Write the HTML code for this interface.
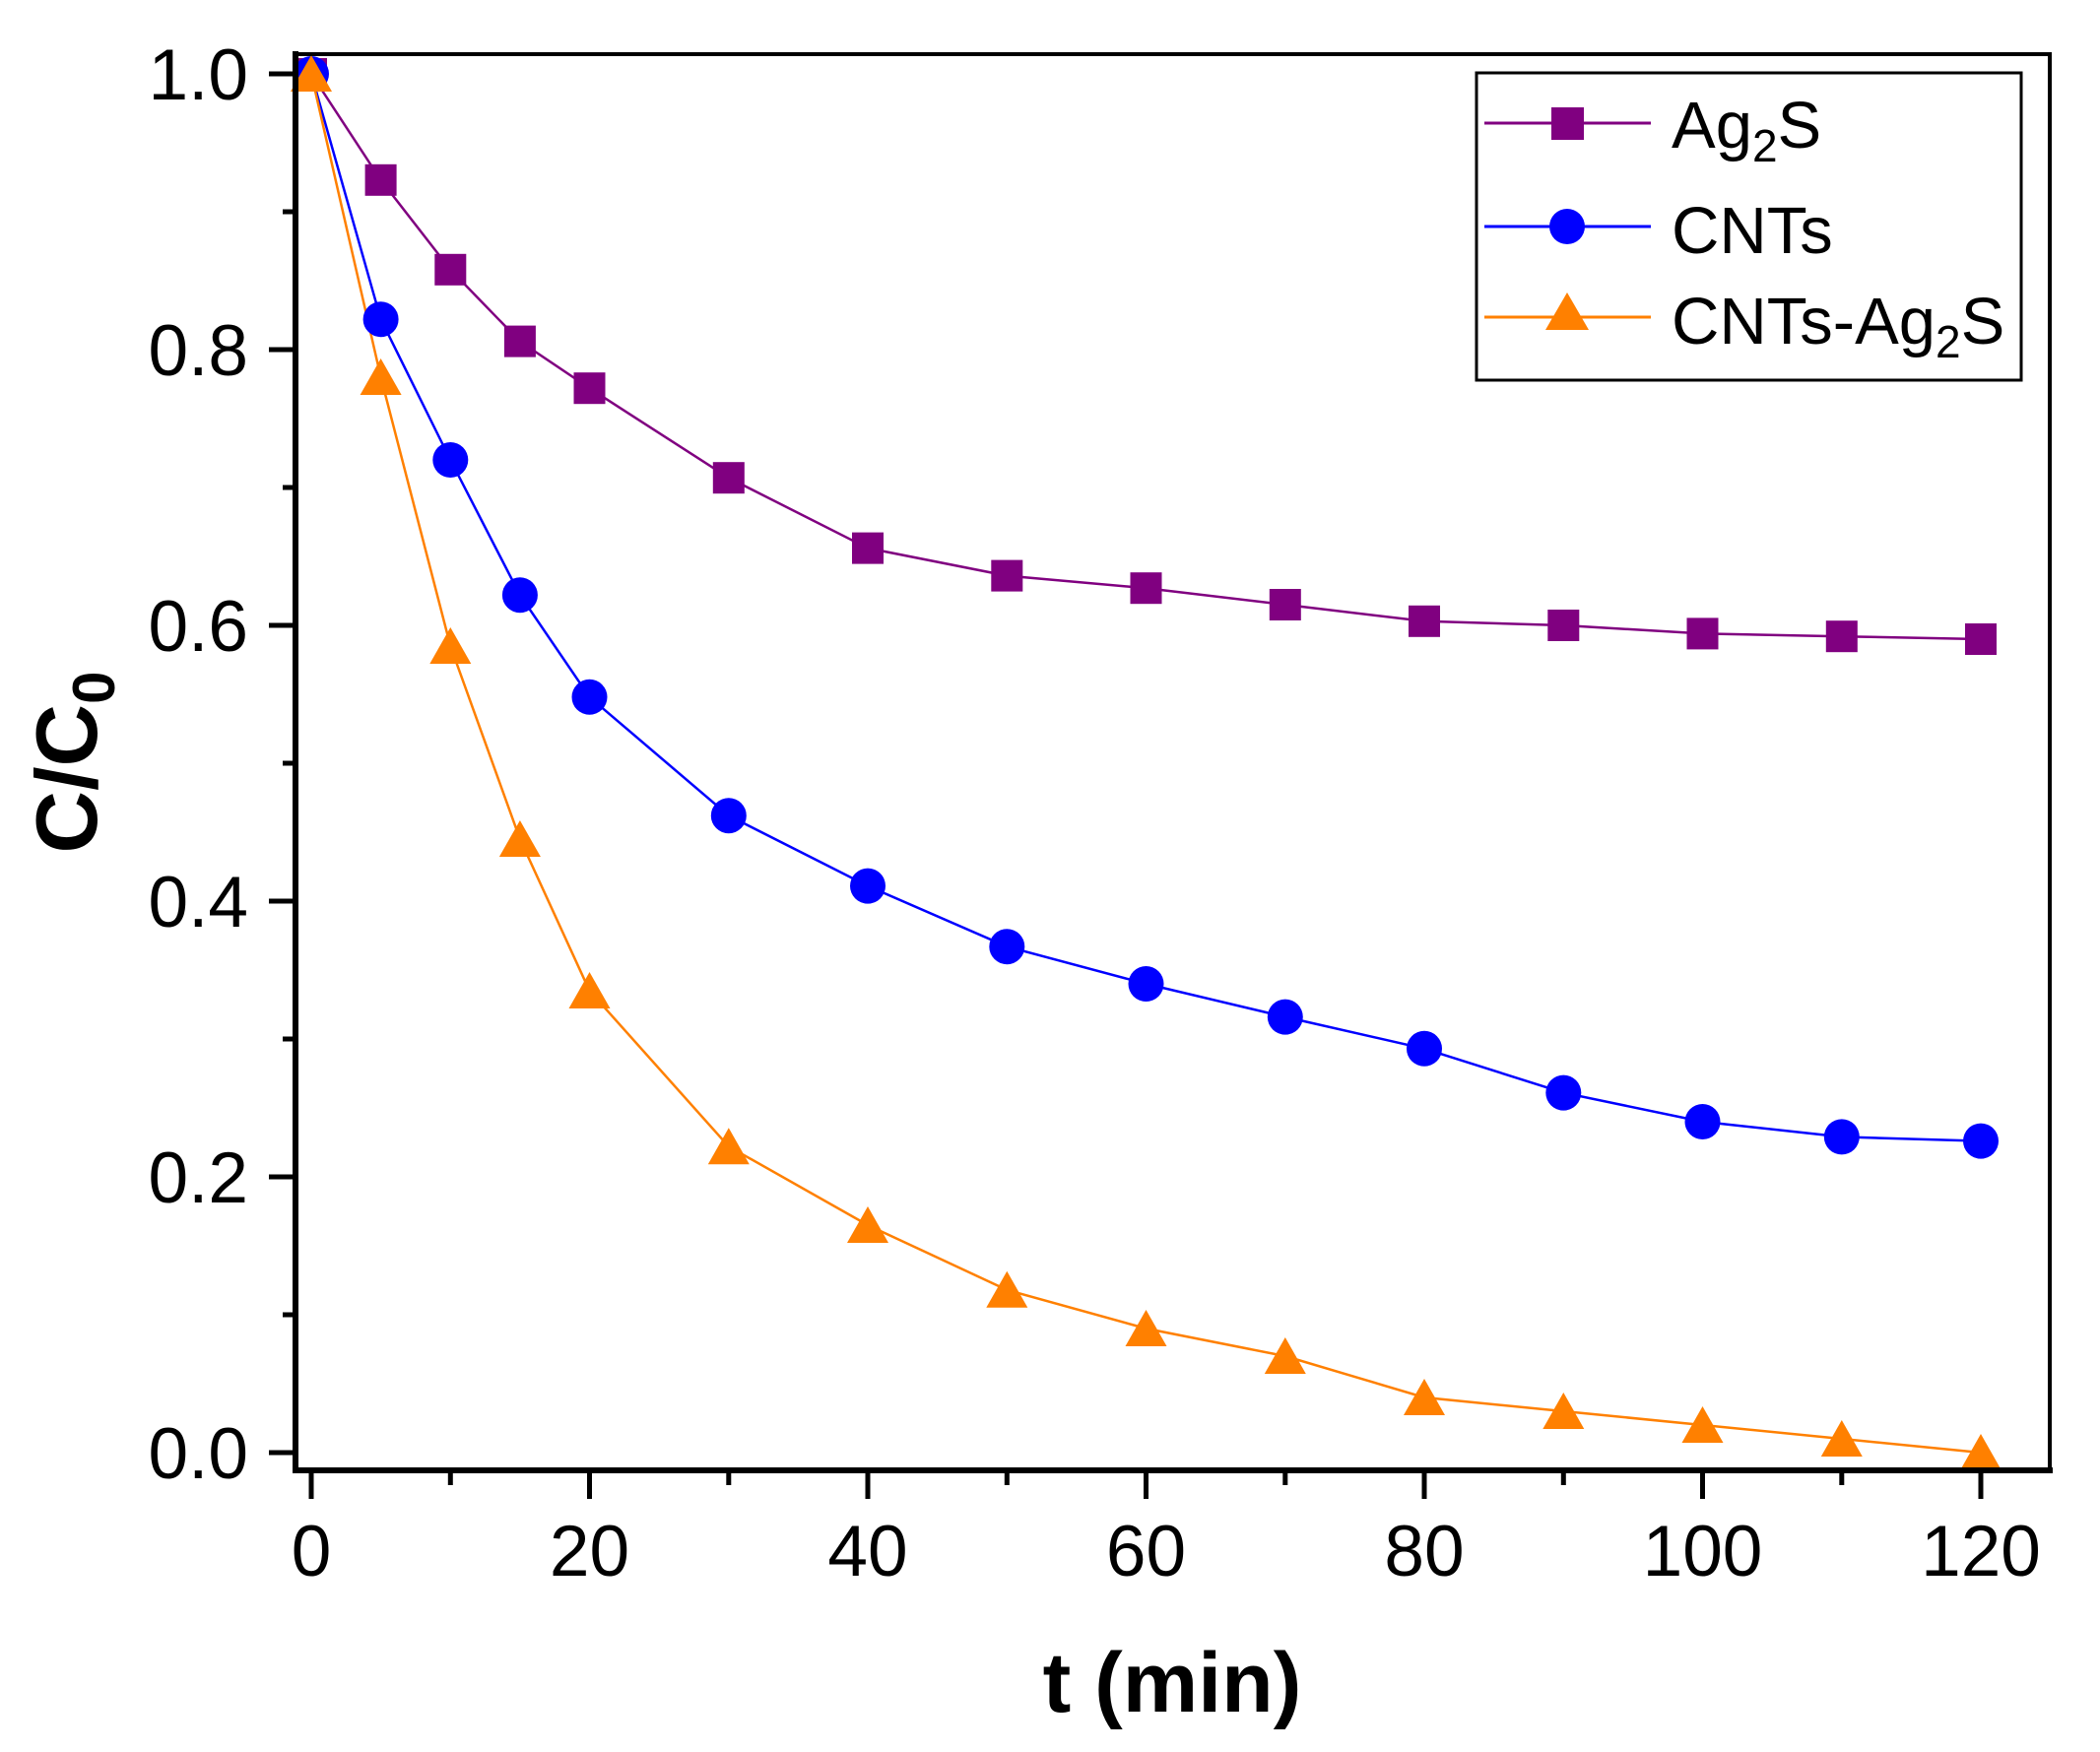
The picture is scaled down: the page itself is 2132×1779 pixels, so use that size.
<!DOCTYPE html>
<html><head><meta charset="utf-8"><style>html,body{margin:0;padding:0;background:#fff}svg{display:block}</style></head>
<body>
<svg width="2132" height="1779" viewBox="0 0 2132 1779" xmlns="http://www.w3.org/2000/svg" xmlns:xlink="http://www.w3.org/1999/xlink" font-family="Liberation Sans, Arial, sans-serif">
<defs>
<rect id="sq" x="-16" y="-16" width="32" height="32" fill="#800080"/>
<circle id="ci" cx="0" cy="0" r="18" fill="#0000ff"/>
<polygon id="tr" points="-21,18 21,18 0,-19" fill="#ff8000"/>
</defs>
<rect width="2132" height="1779" fill="#fff"/>
<polyline fill="none" stroke="#800080" stroke-width="2.5" points="316,75 386.6,182.8 457.3,273.8 527.9,346.6 598.5,394.2 739.8,485.2 881,556.6 1022.3,584.6 1163.5,597.2 1304.8,614 1446,630.8 1587.3,635 1728.5,643.4 1869.8,646.2 2011,649"/>
<polyline fill="none" stroke="#0000ff" stroke-width="2.5" points="316,75 386.6,324.2 457.3,467 527.9,604.2 598.5,707.8 739.8,828.2 881,899.6 1022.3,961.2 1163.5,999 1304.8,1032.6 1446,1064.8 1587.3,1109.6 1728.5,1139 1869.8,1154.4 2011,1158.6"/>
<polyline fill="none" stroke="#ff8000" stroke-width="2.5" points="316,75 386.6,383 457.3,656 527.9,852 598.5,1006 739.8,1164.2 881,1244 1022.3,1309.8 1163.5,1349 1304.8,1377 1446,1419 1587.3,1433 1728.5,1447 1869.8,1461 2011,1475"/>
<g>
<use xlink:href="#sq" x="316" y="75"/><use xlink:href="#sq" x="386.6" y="182.8"/><use xlink:href="#sq" x="457.3" y="273.8"/><use xlink:href="#sq" x="527.9" y="346.6"/><use xlink:href="#sq" x="598.5" y="394.2"/><use xlink:href="#sq" x="739.8" y="485.2"/><use xlink:href="#sq" x="881" y="556.6"/><use xlink:href="#sq" x="1022.3" y="584.6"/><use xlink:href="#sq" x="1163.5" y="597.2"/><use xlink:href="#sq" x="1304.8" y="614"/><use xlink:href="#sq" x="1446" y="630.8"/><use xlink:href="#sq" x="1587.3" y="635"/><use xlink:href="#sq" x="1728.5" y="643.4"/><use xlink:href="#sq" x="1869.8" y="646.2"/><use xlink:href="#sq" x="2011" y="649"/>
</g>
<g>
<use xlink:href="#ci" x="316" y="75"/><use xlink:href="#ci" x="386.6" y="324.2"/><use xlink:href="#ci" x="457.3" y="467"/><use xlink:href="#ci" x="527.9" y="604.2"/><use xlink:href="#ci" x="598.5" y="707.8"/><use xlink:href="#ci" x="739.8" y="828.2"/><use xlink:href="#ci" x="881" y="899.6"/><use xlink:href="#ci" x="1022.3" y="961.2"/><use xlink:href="#ci" x="1163.5" y="999"/><use xlink:href="#ci" x="1304.8" y="1032.6"/><use xlink:href="#ci" x="1446" y="1064.8"/><use xlink:href="#ci" x="1587.3" y="1109.6"/><use xlink:href="#ci" x="1728.5" y="1139"/><use xlink:href="#ci" x="1869.8" y="1154.4"/><use xlink:href="#ci" x="2011" y="1158.6"/>
</g>
<g>
<use xlink:href="#tr" x="316" y="75"/><use xlink:href="#tr" x="386.6" y="383"/><use xlink:href="#tr" x="457.3" y="656"/><use xlink:href="#tr" x="527.9" y="852"/><use xlink:href="#tr" x="598.5" y="1006"/><use xlink:href="#tr" x="739.8" y="1164.2"/><use xlink:href="#tr" x="881" y="1244"/><use xlink:href="#tr" x="1022.3" y="1309.8"/><use xlink:href="#tr" x="1163.5" y="1349"/><use xlink:href="#tr" x="1304.8" y="1377"/><use xlink:href="#tr" x="1446" y="1419"/><use xlink:href="#tr" x="1587.3" y="1433"/><use xlink:href="#tr" x="1728.5" y="1447"/><use xlink:href="#tr" x="1869.8" y="1461"/><use xlink:href="#tr" x="2011" y="1475"/>
</g>
<rect x="300" y="55" width="1781" height="1438" fill="none" stroke="#000" stroke-width="4"/>
<line x1="300" y1="52" x2="300" y2="1496" stroke="#000" stroke-width="6"/>
<line x1="297" y1="1493" x2="2084" y2="1493" stroke="#000" stroke-width="6"/>
<g stroke="#000" stroke-width="5">
<line x1="316" y1="1493" x2="316" y2="1522"/><line x1="457.3" y1="1493" x2="457.3" y2="1508"/>
<line x1="598.5" y1="1493" x2="598.5" y2="1522"/><line x1="739.8" y1="1493" x2="739.8" y2="1508"/>
<line x1="881" y1="1493" x2="881" y2="1522"/><line x1="1022.3" y1="1493" x2="1022.3" y2="1508"/>
<line x1="1163.5" y1="1493" x2="1163.5" y2="1522"/><line x1="1304.8" y1="1493" x2="1304.8" y2="1508"/>
<line x1="1446" y1="1493" x2="1446" y2="1522"/><line x1="1587.3" y1="1493" x2="1587.3" y2="1508"/>
<line x1="1728.5" y1="1493" x2="1728.5" y2="1522"/><line x1="1869.8" y1="1493" x2="1869.8" y2="1508"/>
<line x1="2011" y1="1493" x2="2011" y2="1522"/>
<line x1="300" y1="1475" x2="273" y2="1475"/><line x1="300" y1="1335" x2="287" y2="1335"/>
<line x1="300" y1="1195" x2="273" y2="1195"/><line x1="300" y1="1055" x2="287" y2="1055"/>
<line x1="300" y1="915" x2="273" y2="915"/><line x1="300" y1="775" x2="287" y2="775"/>
<line x1="300" y1="635" x2="273" y2="635"/><line x1="300" y1="495" x2="287" y2="495"/>
<line x1="300" y1="355" x2="273" y2="355"/><line x1="300" y1="215" x2="287" y2="215"/>
<line x1="300" y1="75" x2="273" y2="75"/>
</g>
<g font-size="73" text-anchor="middle" fill="#000">
<text x="316" y="1600">0</text><text x="598.5" y="1600">20</text><text x="881" y="1600">40</text><text x="1163.5" y="1600">60</text><text x="1446" y="1600">80</text><text x="1728.5" y="1600">100</text><text x="2011" y="1600">120</text>
</g>
<g font-size="73" text-anchor="end" fill="#000">
<text x="252" y="1501">0.0</text><text x="252" y="1221">0.2</text><text x="252" y="941">0.4</text><text x="252" y="661">0.6</text><text x="252" y="381">0.8</text><text x="252" y="101">1.0</text>
</g>
<text x="1190" y="1738" font-size="86" font-weight="bold" text-anchor="middle">t (min)</text>
<text transform="translate(98,774) rotate(-90)" font-size="88" font-weight="bold" text-anchor="middle">C/C<tspan font-size="60" dy="18">0</tspan></text>
<rect x="1499" y="74" width="553" height="312" fill="#fff" stroke="#000" stroke-width="3"/>
<line x1="1507" y1="125" x2="1676" y2="125" stroke="#800080" stroke-width="3"/>
<rect x="1575" y="109" width="33" height="33" fill="#800080"/>
<line x1="1507" y1="230" x2="1676" y2="230" stroke="#0000ff" stroke-width="3"/>
<circle cx="1591" cy="230" r="18" fill="#0000ff"/>
<line x1="1507" y1="322" x2="1676" y2="322" stroke="#ff8000" stroke-width="3"/>
<polygon points="1569,335 1613,335 1591,297" fill="#ff8000"/>
<text x="1697" y="150" font-size="67">Ag<tspan font-size="46" dy="14">2</tspan><tspan dy="-14">S</tspan></text>
<text x="1697" y="257" font-size="67">CNTs</text>
<text x="1697" y="349" font-size="67">CNTs-Ag<tspan font-size="46" dy="14">2</tspan><tspan dy="-14">S</tspan></text>
</svg>
</body></html>
